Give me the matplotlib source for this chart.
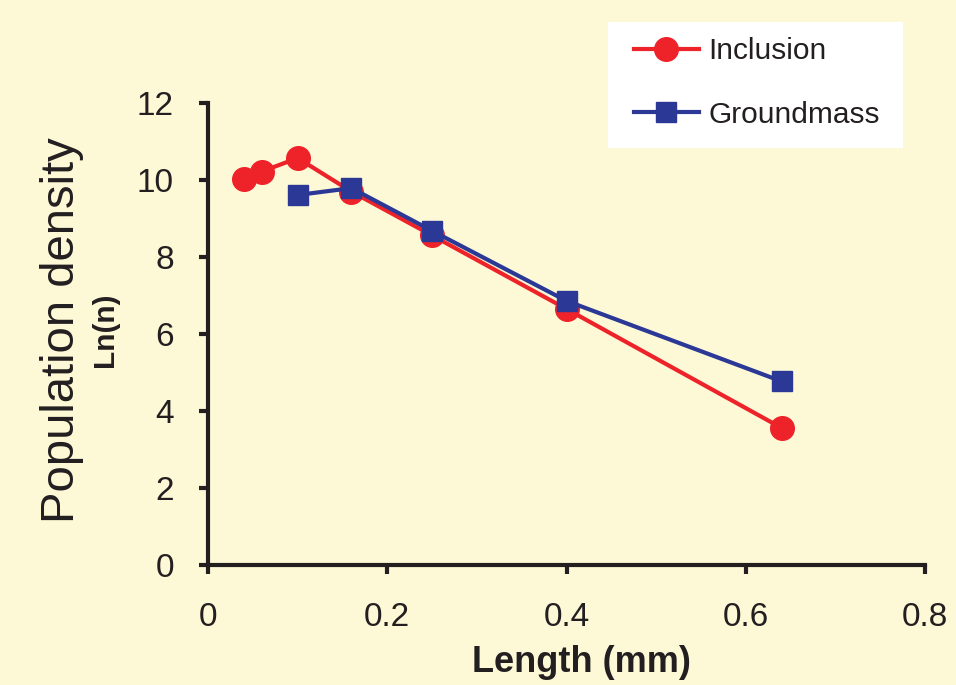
import matplotlib
matplotlib.use('Agg')
from matplotlib import pyplot as plt
from matplotlib.patches import Rectangle

plt.rcParams['font.family'] = ['Liberation Sans', 'DejaVu Sans']

# data
incl_x = [0.04, 0.06, 0.10, 0.16, 0.25, 0.40, 0.64]
incl_y = [10.02, 10.22, 10.57, 9.70, 8.56, 6.65, 3.56]
gm_x = [0.10, 0.16, 0.25, 0.40, 0.64]
gm_y = [9.61, 9.79, 8.68, 6.86, 4.77]
xticks = [0, 0.2, 0.4, 0.6, 0.8]
xtick_labels = ['0', '0.2', '0.4', '0.6', '0.8']
yticks = [0, 2, 4, 6, 8, 10, 12]

bg = '#FDF9D7'
red = '#EE2229'
blue = '#2B3896'
ink = '#231F20'
W, H = 956, 685

fig = plt.figure(figsize=(9.56, 6.85), dpi=100, facecolor=bg)
ax = fig.add_axes([208/W, 1-565/H, (925-208)/W, (565-103)/H], facecolor=bg)

ax.plot(incl_x, incl_y, color=red, lw=3, marker='o', ms=17, mec=red, label='Inclusion', clip_on=False)
ax.plot(gm_x, gm_y, color=blue, lw=3, marker='s', ms=14.5, mec=blue, label='Groundmass', clip_on=False)

ax.set_xlim(0, 0.8)
ax.set_ylim(0, 12)
ax.set_xticks(xticks, xtick_labels)
ax.set_yticks(yticks)
for s in ['top', 'right']:
    ax.spines[s].set_visible(False)
for s in ['left', 'bottom']:
    ax.spines[s].set_linewidth(3)
    ax.spines[s].set_color(ink)
    ax.spines[s].set_capstyle('projecting')
ax.tick_params(axis='both', direction='out', length=6.5, width=3, color=ink,
               labelsize=24, labelcolor=ink)
ax.tick_params(axis='x', pad=20)
ax.tick_params(axis='y', pad=18)

ax.set_xlabel('Length (mm)', fontsize=26, fontweight='bold', color=ink)
ax.xaxis.set_label_coords((581-208)/(925-208), -(663-565)/(565-103))
ax.xaxis.label.set_va('center')
fig.text(62/W, 1-330/H, 'Population density', rotation=90, fontsize=34,
         color=ink, ha='center', va='center')
fig.text(105/W, 1-330/H, 'Ln(n)', rotation=90, fontsize=21.5, fontweight='bold',
         color=ink, ha='center', va='center')

# white legend box
fig.patches.append(Rectangle((608/W, 1-148/H), (903-608)/W, (148-22)/H,
                             transform=fig.transFigure, facecolor='white',
                             edgecolor='none', zorder=1))
leg = fig.legend(loc='upper left', bbox_to_anchor=(634/W, 1-37/H), fontsize=21.5,
                 frameon=False, handlelength=2.17, handletextpad=0.33,
                 labelspacing=1.2, borderpad=0, borderaxespad=0)
leg.set_zorder(2)
for t in leg.get_texts():
    t.set_color(ink)

fig.savefig('out.png', dpi=100, facecolor=bg)
